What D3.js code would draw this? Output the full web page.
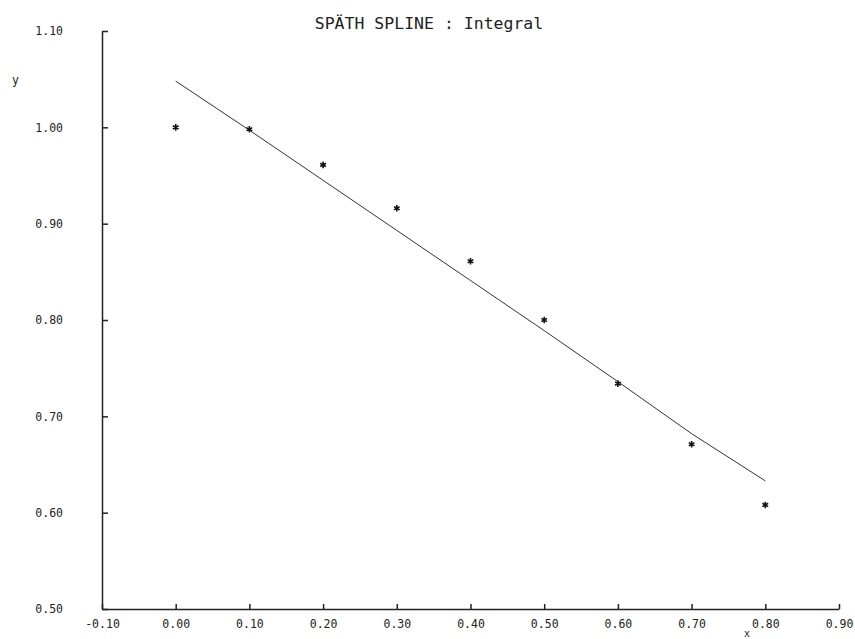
<!DOCTYPE html>
<html>
<head>
<meta charset="utf-8">
<script src="https://cdn.jsdelivr.net/npm/d3@7"></script>
<style>
  body { margin: 0; background: #fff; }
  svg text { font-family: "DejaVu Sans Mono", monospace; fill: #222; }
</style>
</head>
<body>
<svg id="chart" width="855" height="639"></svg>
<script>
// values
var xs = [0.0, 0.1, 0.2, 0.3, 0.4, 0.5, 0.6, 0.7, 0.8]
var pts = [1.000, 0.998, 0.961, 0.916, 0.861, 0.800, 0.734, 0.671, 0.608]
var fit = [1.048, 0.997, 0.945, 0.893, 0.841, 0.789, 0.736, 0.682, 0.633]
var xTicks = [-0.1, 0.0, 0.1, 0.2, 0.3, 0.4, 0.5, 0.6, 0.7, 0.8, 0.9]
var yTicks = [0.5, 0.6, 0.7, 0.8, 0.9, 1.0, 1.1]

var svg = d3.select('#chart')

var x = d3.scaleLinear().domain([-0.1, 0.9]).range([102, 839])
var y = d3.scaleLinear().domain([0.5, 1.1]).range([609, 31])

// plain hyphen for the minus sign, like the original plot
var fmt = function(d) { return d3.format('.2f')(d).replace('\u2212', '-') }

// axes: ticks point inward
var yAxis = d3.axisLeft(y)
  .tickValues(yTicks)
  .tickFormat(fmt)
  .tickSizeInner(-6)
  .tickSizeOuter(0)
  .tickPadding(39)
var xAxis = d3.axisBottom(x)
  .tickValues(xTicks)
  .tickFormat(fmt)
  .tickSizeInner(-5)
  .tickSizeOuter(0)
  .tickPadding(11)

var gy = svg.append('g').attr('transform', 'translate(102,0)').call(yAxis)
var gx = svg.append('g').attr('transform', 'translate(0,609)').call(xAxis)

;[gx, gy].forEach(function(g) {
  g.selectAll('path, line').attr('stroke', '#222').attr('stroke-width', 1.5)
  g.selectAll('text')
    .style('font-family', '"DejaVu Sans Mono", monospace')
    .style('font-size', '11.5px')
    .attr('fill', '#222')
})

// fitted spline
var line = d3.line()
  .x(function(d, i) { return x(xs[i]) })
  .y(function(d) { return y(d) })
svg.append('path')
  .datum(fit)
  .attr('d', line)
  .attr('fill', 'none')
  .attr('stroke', '#333')
  .attr('stroke-width', 1)

// data points as small asterisks
svg.selectAll('path.pt')
  .data(pts)
  .enter()
  .append('path')
    .attr('class', 'pt')
    .attr('d', d3.symbol().type(d3.symbolAsterisk).size(30))
    .attr('transform', function(d, i) { return 'translate(' + x(xs[i]) + ',' + y(d) + ')' })
    .attr('fill', 'none')
    .attr('stroke', '#111')
    .attr('stroke-width', 1.6)

// titles
svg.append('text')
  .attr('x', 429).attr('y', 29)
  .attr('text-anchor', 'middle')
  .style('font-size', '16.5px')
  .text('SPÄTH SPLINE : Integral')
svg.append('text')
  .attr('x', 12).attr('y', 84)
  .style('font-size', '11.5px')
  .text('y')
svg.append('text')
  .attr('x', 744).attr('y', 637)
  .style('font-size', '10px')
  .text('x')
</script>
</body>
</html>
